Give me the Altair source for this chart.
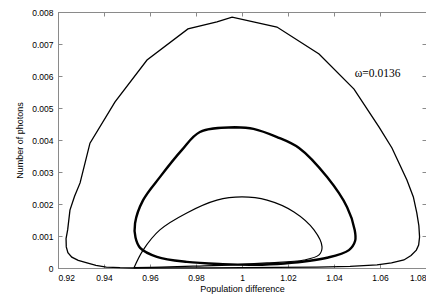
import altair as alt
import pandas as pd

# Outer trajectory
outer_x = [0.953, 0.947, 0.941, 0.9365, 0.9326, 0.9288, 0.926, 0.9243, 0.9236, 0.9235, 0.9242,
           0.9252, 0.9272, 0.9296, 0.9339, 0.9448, 0.9587, 0.9765, 0.9891, 0.9957, 1.0152,
           1.0335, 1.0487, 1.0596, 1.0652, 1.0717, 1.0745, 1.076, 1.0769, 1.0772, 1.0768,
           1.0758, 1.0735, 1.0704, 1.065, 1.0587, 1.047, 1.0326, 1.015, 1.0, 0.985, 0.97, 0.953]
outer_y = [0.0, 0.00001, 0.00003, 0.00008, 0.00016, 0.00024, 0.00034, 0.00048, 0.00066, 0.00092, 0.00119,
           0.00181, 0.00224, 0.00266, 0.0039, 0.00519, 0.0065, 0.00747, 0.00769, 0.00784, 0.00753,
           0.00669, 0.00559, 0.0044, 0.00375, 0.00275, 0.00222, 0.00172, 0.00132, 0.00097, 0.00072,
           0.00056, 0.00039, 0.00025, 0.00016, 0.0001, 0.00005, 0.00003, 0.00002, 0.00001, 0.000007, 0.000004, 0.0]

# Middle (thick, repeated) loop
mid_x = [0.997, 0.9817, 0.9739, 0.9643, 0.957, 0.9535, 0.9537, 0.9557, 0.963, 0.976,
         0.9917, 1.005, 1.0183, 1.037, 1.0465, 1.0492, 1.049, 1.0457, 1.037, 1.0248,
         1.015, 1.005, 0.997]
mid_y = [0.0044, 0.00425, 0.00369, 0.00284, 0.00212, 0.0014, 0.00095, 0.00063, 0.00035, 0.00019,
         0.00012, 0.0001, 0.00014, 0.00032, 0.00056, 0.00085, 0.00119, 0.0019, 0.00284, 0.00375,
         0.0041, 0.00435, 0.0044]

# Inner loop
inner_x = [0.953, 0.957, 0.9643, 0.976, 0.9891, 1.0, 1.0109, 1.0226, 1.0313, 1.0348,
           1.0335, 1.027, 1.0109, 0.9965, 0.98, 0.965, 0.953]
inner_y = [0.0, 0.00056, 0.00119, 0.00172, 0.00212, 0.00222, 0.00212, 0.00175, 0.00119, 0.00066,
           0.00041, 0.00025, 0.00016, 0.0001, 0.00006, 0.00003, 0.00001]

x_ticks = [0.92, 0.94, 0.96, 0.98, 1.0, 1.02, 1.04, 1.06, 1.08]
y_ticks = [0, 0.001, 0.002, 0.003, 0.004, 0.005, 0.006, 0.007, 0.008]

label_text = ["ω=0.0136"]
label_x = [1.049]
label_y = [0.00606]


def frame_of(name, xs, ys, w):
    return pd.DataFrame({"series": name, "x": xs, "y": ys, "order": range(len(xs)), "w": w})


df_outer = frame_of("outer", outer_x, outer_y, 1.3)
df_curved = pd.concat([frame_of("middle", mid_x, mid_y, 2.4),
                       frame_of("inner", inner_x, inner_y, 1.2)])

xscale = alt.Scale(domain=[0.92, 1.08], nice=False, zero=False)
yscale = alt.Scale(domain=[0, 0.008], nice=False)

GRAY = "#8a8a8a"
label_font = "Liberation Sans"

x_main = alt.X("x:Q", scale=xscale,
               axis=alt.Axis(values=x_ticks, title="Population difference",
                             labelExpr="datum.value == 1 ? '1' : format(datum.value, '.2f')",
                             grid=False, domainColor=GRAY, tickColor=GRAY,
                             tickSize={"expr": "-4"}, labelPadding=9, titlePadding=3))
y_main = alt.Y("y:Q", scale=yscale,
               axis=alt.Axis(values=y_ticks, title="Number of photons",
                             labelExpr="datum.value == 0 ? '0' : format(datum.value, '.3f')",
                             grid=False, domainColor=GRAY, tickColor=GRAY,
                             tickSize={"expr": "-4"}, labelPadding=9, titlePadding=7))

outer = alt.Chart(df_outer).mark_line(color="black", interpolate="linear").encode(
    x=x_main, y=y_main, order="order:Q",
    strokeWidth=alt.StrokeWidth("w:Q", scale=None, legend=None),
)

curved = alt.Chart(df_curved).mark_line(color="black", interpolate="catmull-rom").encode(
    x=alt.X("x:Q", scale=xscale, axis=None),
    y=alt.Y("y:Q", scale=yscale, axis=None),
    detail="series:N", order="order:Q",
    strokeWidth=alt.StrokeWidth("w:Q", scale=None, legend=None),
)

frame = alt.Chart(df_outer).mark_point(opacity=0).encode(
    x=alt.X("x:Q", scale=xscale,
            axis=alt.Axis(values=x_ticks, orient="top", labels=False, title=None, grid=False,
                          domainColor=GRAY, tickColor=GRAY, tickSize={"expr": "-4"})),
    y=alt.Y("y:Q", scale=yscale,
            axis=alt.Axis(values=y_ticks, orient="right", labels=False, title=None, grid=False,
                          domainColor=GRAY, tickColor=GRAY, tickSize={"expr": "-4"})),
)

ldf = pd.DataFrame({"t": label_text, "x": label_x, "y": label_y})
text = alt.Chart(ldf).mark_text(align="left", baseline="middle", font="Liberation Serif",
                                fontSize=11.5, color="black").encode(
    x=alt.X("x:Q", scale=xscale, axis=None),
    y=alt.Y("y:Q", scale=yscale, axis=None), text="t:N")

chart = alt.layer(outer, curved, frame, text).resolve_axis(x="independent", y="independent").properties(
    width=368, height=256,
    autosize=alt.AutoSizeParams(type="none"),
    padding={"left": 50, "top": 4, "right": 0, "bottom": 30},
).configure_view(stroke=GRAY, strokeWidth=1).configure_axis(
    labelFont=label_font, labelFontSize=8.5, labelColor="black",
    titleFont=label_font, titleFontSize=9, titleColor="black", titleFontWeight="normal",
)

chart.save("out.html", embed_options={"renderer": "svg", "actions": False})
